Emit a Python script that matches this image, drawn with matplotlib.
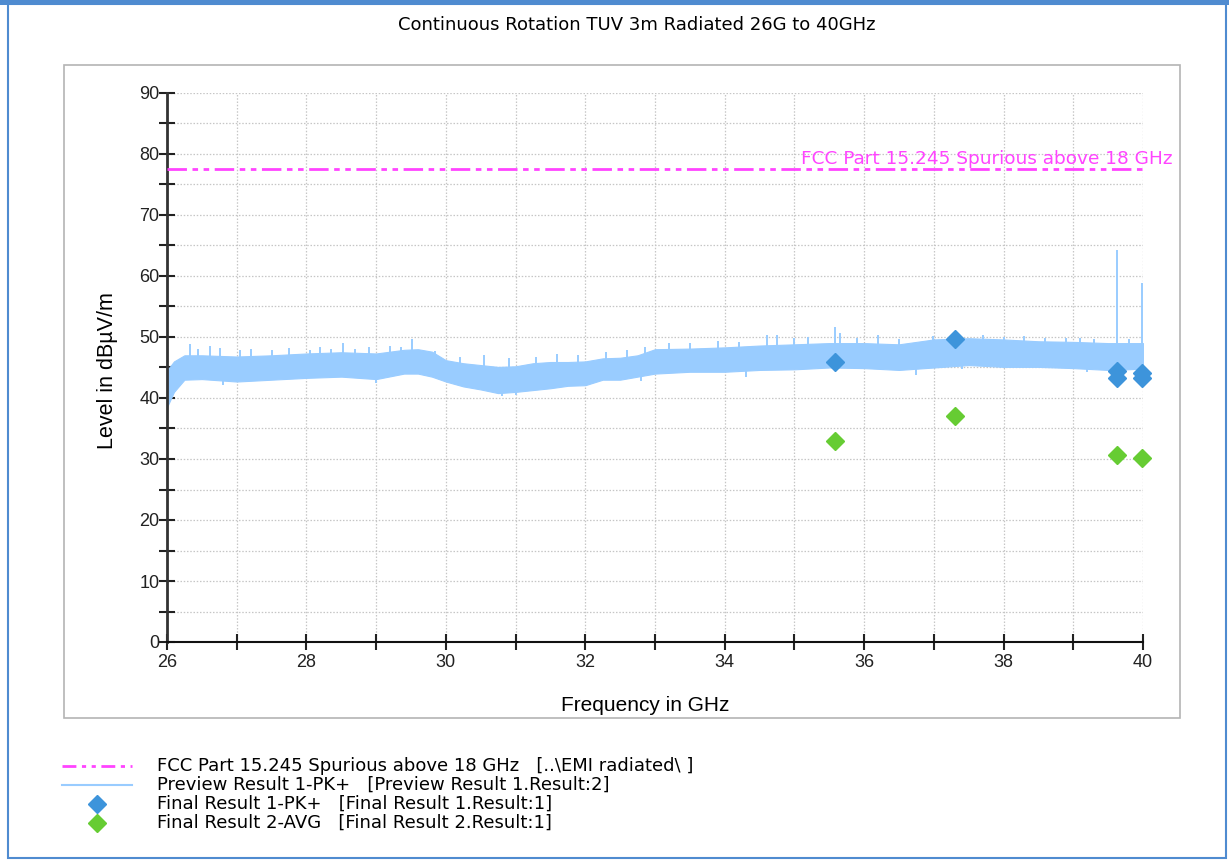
import matplotlib
matplotlib.use("Agg")
import matplotlib.pyplot as plt
from matplotlib.lines import Line2D
from matplotlib.patches import Rectangle
from matplotlib.ticker import MultipleLocator

plt.rcParams['font.family'] = ['Liberation Sans', 'DejaVu Sans']

# preview trace envelope (GHz, dBuV/m)
freq_env = [26.0, 26.1, 26.25, 26.5, 27.0, 27.5, 28.0, 28.5, 29.0, 29.4, 29.6,
            29.8, 30.0, 30.25, 30.5, 30.75, 31.0, 31.25, 31.5, 31.75, 32.0,
            32.25, 32.5, 32.75, 33.0, 33.5, 34.0, 34.5, 35.0, 35.5, 36.0,
            36.5, 37.0, 37.5, 38.0, 38.5, 39.0, 39.5, 40.0]
upper_env = [44.5, 46.0, 47.0, 47.0, 46.8, 47.0, 47.3, 47.5, 47.3, 47.9, 48.0,
             47.6, 46.2, 45.7, 45.4, 45.1, 45.2, 45.7, 45.9, 45.9, 46.0,
             46.5, 46.6, 47.0, 48.0, 48.1, 48.3, 48.6, 48.8, 49.0, 49.0,
             48.8, 49.6, 49.8, 49.6, 49.3, 49.2, 49.0, 49.0]
lower_env = [38.5, 41.0, 43.0, 43.1, 42.7, 43.0, 43.3, 43.5, 43.1, 44.0, 44.0,
             43.5, 42.7, 41.9, 41.4, 40.8, 41.0, 41.3, 41.6, 42.0, 42.1,
             43.0, 43.0, 43.5, 44.0, 44.3, 44.3, 44.6, 44.7, 45.0, 44.9,
             44.6, 45.0, 45.4, 45.1, 45.1, 44.9, 44.6, 44.8]

# individual peaks sticking out of the band
spike_freq = [26.33, 26.45, 26.62, 26.76, 27.05, 27.2, 27.5, 27.75, 28.05, 28.2,
              28.35, 28.52, 28.7, 28.9, 29.2, 29.35, 29.51, 29.84, 30.2, 30.55,
              30.9, 31.3, 31.6, 31.9, 32.3, 32.6, 32.85, 33.2, 33.5, 33.9,
              34.2, 34.6, 34.75, 35.0, 35.2, 35.58, 35.65, 35.9, 36.2, 36.5,
              36.99, 37.3, 37.7, 38.0, 38.3, 38.6, 38.9, 39.1, 39.3, 39.62,
              39.8, 39.98]
spike_top = [48.8, 48.0, 48.5, 48.2, 47.8, 48.0, 47.8, 48.2, 47.9, 48.4,
             48.0, 49.0, 48.1, 48.3, 48.6, 48.4, 49.7, 47.7, 46.8, 47.0,
             46.6, 46.8, 47.2, 47.0, 47.6, 47.8, 48.3, 49.0, 49.0, 49.3,
             49.2, 50.3, 50.3, 49.8, 50.0, 51.6, 50.6, 49.8, 50.3, 49.7,
             50.2, 50.0, 50.4, 50.0, 50.1, 49.9, 49.8, 49.9, 49.7, 64.2,
             49.7, 58.8]
spike_base = [45.0, 45.0, 45.0, 45.0, 45.0, 45.0, 45.0, 45.0, 45.2, 45.2,
              45.3, 45.5, 45.3, 45.3, 45.3, 45.6, 46.0, 45.5, 44.0, 43.5,
              43.2, 43.5, 43.8, 44.0, 44.5, 45.0, 45.5, 46.0, 46.2, 46.3,
              46.4, 46.5, 46.5, 46.7, 46.8, 47.0, 47.0, 47.0, 47.0, 46.8,
              47.2, 47.5, 47.5, 47.4, 47.3, 47.2, 47.0, 47.0, 46.8, 47.0,
              46.8, 47.0]
dip_freq = [26.0, 26.8, 29.0, 30.8, 31.0, 32.8, 34.3, 36.75, 37.4, 39.2]
dip_low = [38.0, 42.2, 42.5, 40.3, 40.5, 42.8, 43.5, 43.8, 44.8, 44.2]
dip_top = [43.0, 44.0, 44.0, 43.0, 43.0, 45.0, 46.0, 46.5, 46.5, 46.5]

# final measurement points
pk_freq = [35.58, 37.30, 39.63, 39.63, 39.98, 39.98]
pk_level = [45.9, 49.6, 44.4, 43.3, 44.1, 43.3]
avg_freq = [35.58, 37.30, 39.63, 39.98]
avg_level = [33.0, 37.0, 30.6, 30.1]

limit_level = 77.5
limit_label = "FCC Part 15.245 Spurious above 18 GHz"

BAND = '#99CCFF'
PK = '#3D94DB'
AVG = '#66CC33'
MAG = '#FF44FF'
WIDE = ['DejaVu Sans']

fig = plt.figure(figsize=(12.29, 8.60), dpi=100)

# outer blue frame and grey panel
fig.patches.append(Rectangle((8 / 1229, 2 / 860), 1218 / 1229, 854 / 860,
                             transform=fig.transFigure, fill=False,
                             edgecolor='#4F8BD0', lw=1.5))
fig.patches.append(Rectangle((0, 1 - 5 / 860), 1, 5 / 860,
                             transform=fig.transFigure, facecolor='#4F8BD0',
                             edgecolor='none'))
fig.patches.append(Rectangle((64 / 1229, 142 / 860), 1116 / 1229, 653 / 860,
                             transform=fig.transFigure, fill=False,
                             edgecolor='#B4B4B4', lw=1.2))

ax = fig.add_axes([167 / 1229, 218 / 860, 976 / 1229, 549 / 860])

ax.fill_between(freq_env, lower_env, upper_env, color=BAND, lw=0.8,
                edgecolor=BAND, zorder=2)
ax.vlines(spike_freq, spike_base, spike_top, color=BAND, lw=1.4, zorder=2)
ax.vlines(dip_freq, dip_low, dip_top, color=BAND, lw=1.4, zorder=2)

ax.axhline(limit_level, color=MAG, lw=2, dashes=[7, 2, 2, 2, 2, 2], zorder=3)
ax.text(40.42, limit_level + 0.2, limit_label, color=MAG, fontsize=13.3,
        family=WIDE, ha='right', va='bottom', clip_on=False)

ax.plot(pk_freq, pk_level, 'D', color=PK, ms=9.5, mec=PK, zorder=4,
        clip_on=False)
ax.plot(avg_freq, avg_level, 'D', color=AVG, ms=9.5, mec=AVG, zorder=4,
        clip_on=False)

ax.set_xlim(26, 40)
ax.set_ylim(0, 90)
ax.xaxis.set_major_locator(MultipleLocator(2))
ax.xaxis.set_minor_locator(MultipleLocator(1))
ax.yaxis.set_major_locator(MultipleLocator(10))
ax.yaxis.set_minor_locator(MultipleLocator(5))
ax.grid(True, which='both', color='#C6C6C6', ls=(0, (1.2, 1.4)), lw=0.9)
ax.set_axisbelow(True)

for s in ('top', 'right'):
    ax.spines[s].set_visible(False)
ax.spines['left'].set_linewidth(2)
ax.spines['left'].set_color('#333333')
ax.spines['bottom'].set_linewidth(1.5)
ax.spines['bottom'].set_color('#111111')
ax.tick_params(which='both', direction='inout', length=11, width=1.5,
               colors='#222222', labelsize=13)
ax.tick_params(axis='y', pad=0)
ax.tick_params(axis='x', pad=3)

ax.set_xlabel("Frequency in GHz", fontsize=15)
ax.xaxis.set_label_coords(0.49, -0.098)
ax.set_ylabel("Level in dBµV/m", fontsize=15.5)
ax.yaxis.set_label_coords(-0.05, 0.495)

fig.text(0.518, 1 - 25 / 860, "Continuous Rotation TUV 3m Radiated 26G to 40GHz",
         ha='center', va='center', fontsize=13, family=WIDE)

# legend block, drawn row by row
legend_handles = [
    dict(color=MAG, lw=2, dashes=[5, 2, 1.5, 2, 1.5, 2]),
    dict(color=BAND, lw=1.5),
    dict(color=PK, marker='D', ls='none', ms=9),
    dict(color=AVG, marker='D', ls='none', ms=9),
]
legend_labels = [
    "FCC Part 15.245 Spurious above 18 GHz   [..\\EMI radiated\\ ]",
    "Preview Result 1-PK+   [Preview Result 1.Result:2]",
    "Final Result 1-PK+   [Final Result 1.Result:1]",
    "Final Result 2-AVG   [Final Result 2.Result:1]",
]
for i, (h, lab) in enumerate(zip(legend_handles, legend_labels)):
    yy = 1 - (766 + 19 * i) / 860
    if h.get('marker'):
        fig.add_artist(Line2D([97 / 1229], [yy], transform=fig.transFigure, **h))
    else:
        fig.add_artist(Line2D([62 / 1229, 132 / 1229], [yy, yy],
                              transform=fig.transFigure, **h))
    fig.text(157 / 1229, yy, lab, ha='left', va='center', fontsize=13,
             family=WIDE)

fig.savefig("out.png", dpi=100)
